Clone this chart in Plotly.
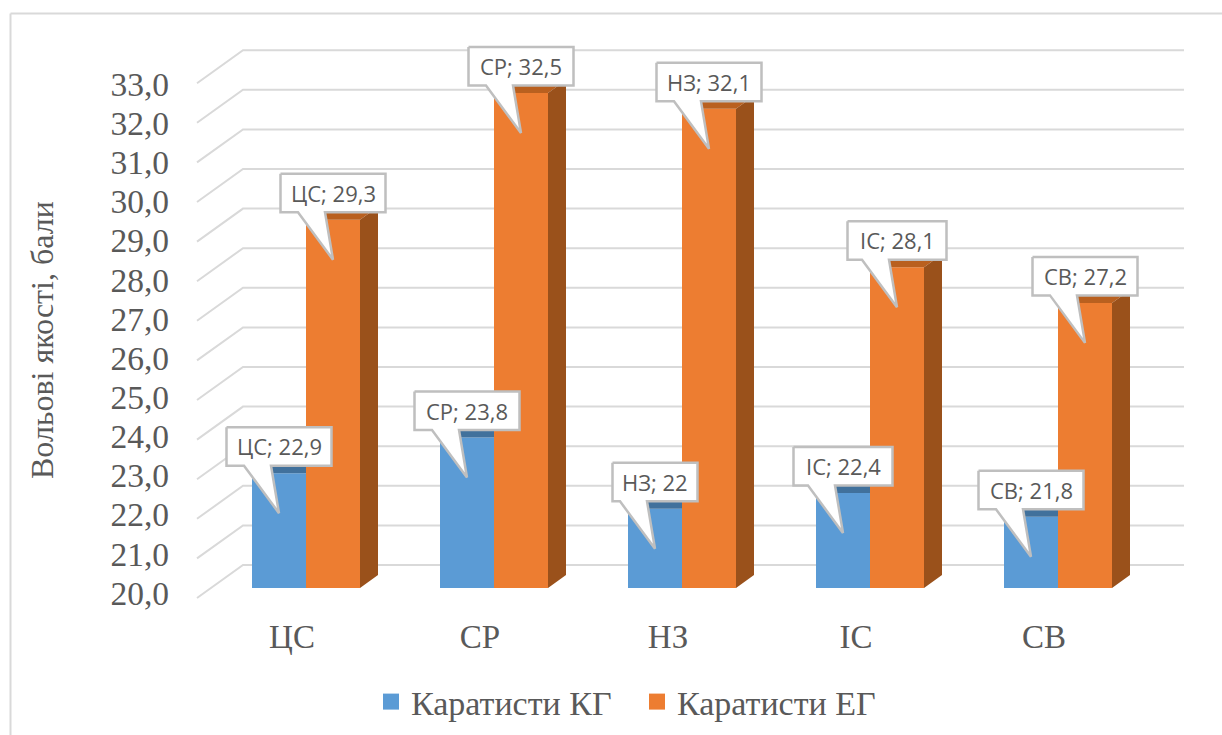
import numpy as np
import plotly.graph_objects as go

categories = ["ЦС", "СР", "НЗ", "ІС", "СВ"]
kg_values = [22.9, 23.8, 22.0, 22.4, 21.8]
eg_values = [29.3, 32.5, 32.1, 28.1, 27.2]
tick_values = list(range(20, 34))
series_names = ["Каратисти КГ", "Каратисти ЕГ"]
axis_title = "Вольові якості, бали"

W, H = 1222, 735
L, R, T, B = 175, 1200, 30, 605
PX_X = 188.0       # pixels per category
X0_PX = 306.0      # pixel of first category centre
PX_Y = 39.6        # pixels per value unit
BASE_PX = 588.0    # pixel of value 20 on bar plane
LBL_PX_Y = 39.15
LBL_BASE_PX = 593.0
BW = 54.0

def dx(p):
    return p / PX_X

def dy(p):
    return p / PX_Y

xr = [(L - X0_PX) / PX_X, (R - X0_PX) / PX_X]
yr_bar = [20 + (BASE_PX - B) / PX_Y, 20 + (BASE_PX - T) / PX_Y]
yr_lbl = [20 + (LBL_BASE_PX - B) / LBL_PX_Y, 20 + (LBL_BASE_PX - T) / LBL_PX_Y]

GRID = "#d9d9d9"
BLUE, ORANGE = "#5b9bd5", "#ed7d31"
BLUE_TOP, ORANGE_TOP, ORANGE_SIDE = "#41719c", "#b9601f", "#9a511b"
TEXT = "#595959"
SERIF = "Liberation Serif"

fig = go.Figure()

# legend keys (lowest subplot)
for name, col in zip(series_names, [BLUE, ORANGE]):
    fig.add_trace(go.Scatter(x=[None], y=[None], mode="markers", name=name,
                             marker=dict(symbol="square", size=16, color=col),
                             xaxis="x", yaxis="y", showlegend=True))

# walls: gridlines with a slanted side-wall segment
gx, gy = [], []
x_front = (197 - X0_PX) / PX_X
x_bend = (243 - X0_PX) / PX_X
x_end = (1184 - X0_PX) / PX_X
for t in tick_values:
    gx += [x_front, x_bend, x_end, None]
    gy += [t - dy(10), t + dy(23), t + dy(23), None]
fig.add_trace(go.Scatter(x=gx, y=gy, mode="lines", showlegend=False, hoverinfo="skip",
                         line=dict(color=GRID, width=2), cliponaxis=False,
                         xaxis="x", yaxis="y2"))

# front faces
xs = np.arange(len(categories))
base = [20] * len(categories)
for name, vals, col in zip(series_names, [kg_values, eg_values], [BLUE, ORANGE]):
    fig.add_trace(go.Bar(x=xs, y=np.array(vals) - 20, base=base, name=name, showlegend=False,
                         marker=dict(color=col, line=dict(width=0)),
                         xaxis="x", yaxis="y3", hoverinfo="skip"))

# depth faces
def poly_trace(px, py, col):
    return go.Scatter(x=px, y=py, mode="lines", fill="toself", fillcolor=col,
                      line=dict(width=0), showlegend=False, hoverinfo="skip",
                      cliponaxis=False, xaxis="x", yaxis="y3")

DX, DY = dx(18), dy(13)
w = dx(BW)
tx, ty = [], []
for i, v in enumerate(kg_values):
    tx += [i - w, i, i, i - w + DX, None]
    ty += [v, v, v + DY, v + DY, None]
fig.add_trace(poly_trace(tx, ty, BLUE_TOP))
tx, ty, sx, sy = [], [], [], []
for i, v in enumerate(eg_values):
    tx += [i, i + w, i + w + DX, i + DX, None]
    ty += [v, v, v + DY, v + DY, None]
    sx += [i + w, i + w + DX, i + w + DX, i + w, None]
    sy += [v, v + DY, 20 + DY, 20, None]
fig.add_trace(poly_trace(tx, ty, ORANGE_TOP))
fig.add_trace(poly_trace(sx, sy, ORANGE_SIDE))

# callouts
def fmt(v):
    return f"{v:g}".replace(".", ",")

cx, cy, annotations = [], [], []
for vals, shift in [(kg_values, -w), (eg_values, 0.0)]:
    for i, v in enumerate(vals):
        label = f"{categories[i]}; {fmt(v)}"
        half_px = 42.5 if len(label) <= 6 else (49.5 if "І" in label else 52.5)
        half = dx(half_px)
        c = i + shift + dx(27)
        top, bot = v + dy(46), v + dy(7.5)
        tail_l, tail_r = c - dx(35), c - dx(8)
        tip_x, tip_y = c, v - dy(40)
        cx += [c - half, c + half, c + half, tail_r, tip_x, tail_l, c - half, c - half, None]
        cy += [top, top, bot, bot, tip_y, bot, bot, top, None]
        annotations.append(dict(x=c, y=(top + bot) / 2, xref="x", yref="y3", text=label,
                                showarrow=False, xanchor="center", yanchor="middle",
                                font=dict(family="Open Sans", size=22, color=TEXT)))
fig.add_trace(go.Scatter(x=cx, y=cy, mode="lines", fill="toself", fillcolor="white",
                         line=dict(color="#bfbfbf", width=2.5), showlegend=False,
                         hoverinfo="skip", cliponaxis=False, xaxis="x", yaxis="y3"))

annotations.append(dict(x=(42 - L) / (R - L), y=1 - (340 - T) / (B - T),
                        xref="paper", yref="paper", text=axis_title, showarrow=False,
                        textangle=-90, xanchor="center", yanchor="middle",
                        font=dict(family=SERIF, size=32, color=TEXT)))

hidden = dict(visible=False, overlaying="y", fixedrange=True)
fig.update_layout(
    width=W, height=H, autosize=False,
    margin=dict(l=L, r=W - R, t=T, b=H - B, autoexpand=False),
    paper_bgcolor="white", plot_bgcolor="rgba(0,0,0,0)",
    separators=", ",
    barmode="group", bargap=1 - 2 * BW / PX_X, bargroupgap=0,
    xaxis=dict(range=xr, tickmode="array", tickvals=(xs - dx(14)).tolist(), ticktext=categories,
               showgrid=False, zeroline=False, showline=False, ticks="",
               ticklabelstandoff=9, fixedrange=True,
               tickfont=dict(family=SERIF, size=33, color=TEXT)),
    yaxis=dict(range=yr_lbl, tickmode="array", tickvals=tick_values, tickformat=".1f",
               showgrid=False, zeroline=False, showline=False, ticks="", fixedrange=True,
               ticklabelstandoff=5,
               tickfont=dict(family=SERIF, size=33.5, color=TEXT)),
    yaxis2=dict(range=yr_bar, **hidden),
    yaxis3=dict(range=yr_bar, **hidden),
    legend=dict(orientation="h", x=(371 - L) / (R - L), y=1 - (702 - T) / (B - T),
                xanchor="left", yanchor="middle",
                font=dict(family=SERIF, size=34, color=TEXT),
                entrywidthmode="pixels", entrywidth=221, itemsizing="trace",
                bgcolor="rgba(0,0,0,0)"),
    annotations=annotations,
    shapes=[
        dict(type="line", xref="paper", yref="paper", layer="below",
             x0=(10.5 - L) / (R - L), x1=(W - L) / (R - L),
             y0=1 - (13.5 - T) / (B - T), y1=1 - (13.5 - T) / (B - T),
             line=dict(color=GRID, width=2)),
        dict(type="line", xref="paper", yref="paper", layer="below",
             x0=(10.5 - L) / (R - L), x1=(10.5 - L) / (R - L),
             y0=1 - (13.5 - T) / (B - T), y1=1 - (H - T) / (B - T),
             line=dict(color=GRID, width=2)),
    ],
)

fig.write_html("out.html", config=dict(displayModeBar=False),
               post_script="document.body.style.margin='0';document.body.style.overflow='hidden';")
